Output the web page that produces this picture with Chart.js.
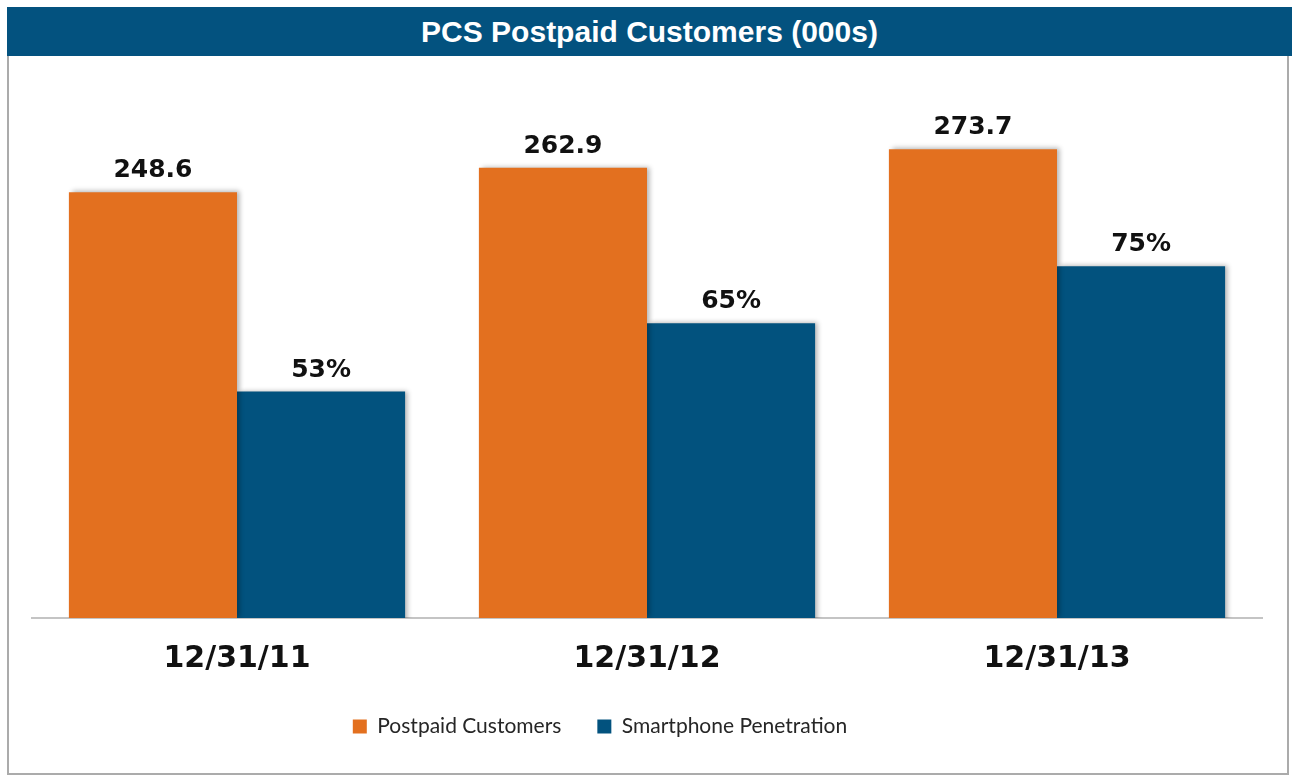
<!DOCTYPE html>
<html>
<head>
<meta charset="utf-8">
<script src="https://cdn.jsdelivr.net/npm/chart.js@4.4.1/dist/chart.umd.min.js"></script>
<style>
  html, body { margin: 0; padding: 0; background: #ffffff; }
  #frame { position: absolute; left: 7px; top: 7px; width: 1278px; height: 764px;
           border: 2px solid #ababab; box-sizing: content-box; }
  #titlebar { position: absolute; left: 7px; top: 7px; width: 1285px; height: 49px;
              background: #03527f; color: #ffffff; z-index: 2;
              font-family: "Liberation Sans", Arial, sans-serif; font-weight: bold;
              font-size: 30px; line-height: 50px; text-align: center; }
  #wrap { position: absolute; left: 0; top: 0; width: 1293px; height: 776px; z-index: 1; }
</style>
</head>
<body>
<div id="frame"></div>
<div id="titlebar">PCS Postpaid Customers (000s)</div>
<div id="wrap"><canvas id="c"></canvas></div>
<script>
// ---- data ----
const categories = ["12/31/11", "12/31/12", "12/31/13"];
const postpaidCustomers = [248.6, 262.9, 273.7];        // thousands
const smartphonePenetration = [53, 65, 75];             // percent
const seriesNames = ["Postpaid Customers", "Smartphone Penetration"];

const ORANGE = "#e3701f";
const BLUE = "#02527e";

const barShadow = {
  id: "barShadow",
  beforeDatasetsDraw(chart) {
    const ctx = chart.ctx;
    ctx.save();
    ctx.shadowColor = "rgba(0,0,0,0.30)";
    ctx.shadowBlur = 5;
    ctx.shadowOffsetX = 3;
    ctx.shadowOffsetY = -1;
  },
  afterDatasetsDraw(chart) {
    chart.ctx.restore();
  }
};

const valueLabels = {
  id: "valueLabels",
  afterDatasetsDraw(chart) {
    const ctx = chart.ctx;
    ctx.save();
    ctx.font = "bold 25px 'DejaVu Sans'";
    ctx.fillStyle = "#111111";
    ctx.textAlign = "center";
    ctx.textBaseline = "alphabetic";
    chart.data.datasets.forEach((ds, di) => {
      const meta = chart.getDatasetMeta(di);
      meta.data.forEach((el, i) => {
        const v = ds.data[i];
        const txt = di === 0 ? v.toFixed(1) : v + "%";
        ctx.fillText(txt, el.x, el.y - 15);
      });
    });
    ctx.restore();
  }
};

const legendShift = {
  id: "legendShift",
  afterLayout(chart) {
    const l = chart.legend;
    if (l) { l.left -= 47; l.right -= 47; }
  }
};

new Chart(document.getElementById("c"), {
  type: "bar",
  data: {
    labels: categories,
    datasets: [
      { label: seriesNames[0], data: postpaidCustomers, backgroundColor: ORANGE, yAxisID: "y" },
      { label: seriesNames[1], data: smartphonePenetration, backgroundColor: BLUE, yAxisID: "y1" }
    ]
  },
  options: {
    responsive: true,
    maintainAspectRatio: false,
    animation: false,
    events: [],
    datasets: { bar: { categoryPercentage: 0.82, barPercentage: 1.0, borderWidth: 0 } },
    layout: { padding: { left: 32, right: 31, top: 70, bottom: 29 } },
    scales: {
      x: {
        grid: { display: false, drawTicks: false },
        border: { display: true, color: "#c4c4c4", width: 2 },
        ticks: { color: "#111111", padding: 23, maxRotation: 0,
                 font: { family: "'DejaVu Sans'", size: 30, weight: "bold" } },
        afterFit(s) { s.height = 62; }
      },
      y: { display: false, min: 0, max: 320 },
      y1: { display: false, min: 13.22, max: 109.49 }
    },
    plugins: {
      legend: {
        position: "bottom",
        labels: { boxWidth: 14, boxHeight: 14, padding: 36, color: "#262626",
                  font: { family: "Lato", size: 21 } }
      },
      tooltip: { enabled: false },
      title: { display: false }
    }
  },
  plugins: [barShadow, valueLabels, legendShift]
});
</script>
</body>
</html>
